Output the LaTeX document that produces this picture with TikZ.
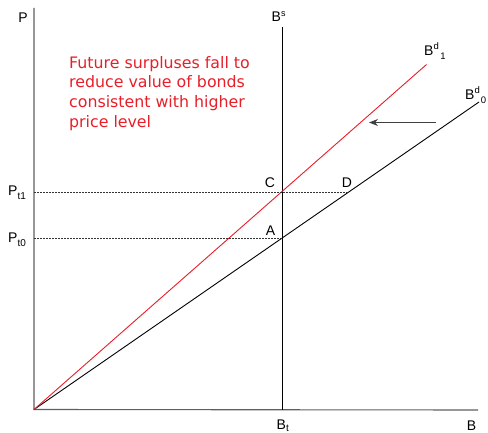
\documentclass[tikz,border=0pt]{standalone}
\usepackage{fontspec}
\setmainfont{Liberation Sans}
\newfontfamily\notefont{DejaVu Sans}
\usetikzlibrary{arrows.meta}
\definecolor{curvered}{RGB}{232,30,40}
\definecolor{axisgray}{RGB}{95,95,95}
\begin{document}
\begin{tikzpicture}[x=1pt,y=-1pt,
  axis/.style={draw=axisgray,line width=1.1pt},
  curve/.style={line width=0.9pt},
  guide/.style={draw=black!80,dashed,dash pattern=on 2pt off 1pt,line width=0.6pt},
  lbl/.style={inner sep=0pt,font=\fontsize{14}{16}\selectfont},
  pt/.style={inner sep=0pt,font=\fontsize{14}{16}\selectfont}]
\useasboundingbox (0,0) rectangle (488,433);
% coordinates
\coordinate (O) at (34,409.5);
\coordinate (Ytop) at (34,8);
\coordinate (Xend) at (478,410);
\coordinate (BsTop) at (282,27);
\coordinate (BsBot) at (282,409.5);
\coordinate (R1) at (426.5,64.5);
\coordinate (R0) at (479,102);
\coordinate (Ppt1) at (34,192.5);
\coordinate (Dpt) at (348,192.5);
\coordinate (Ppt0) at (34,238.5);
\coordinate (Apt) at (282,238.5);
\coordinate (ArrTail) at (436,122.5);
\coordinate (ArrTip) at (369,122.5);
% axes
\draw[axis] (Ytop) -- (O) -- (Xend);
% supply
\draw[curve,line width=0.8pt] (BsTop) -- (BsBot);
% demand curves
\draw[curve,draw=black] (O) -- (R0);
\draw[curve,draw=curvered] (O) -- (R1);
% guides
\draw[guide] (Ppt1) -- (Dpt);
\draw[guide] (Ppt0) -- (Apt);
% shift arrow
\draw[draw=black!75,line width=0.9pt,-{Stealth[length=9pt,width=7pt]}] (ArrTail) -- (ArrTip);
% labels
\node[lbl,anchor=base] (Plab) at (23,22.5) {P};
\node[lbl,anchor=base west] (Bslab) at (271.5,21.5) {B\raisebox{5pt}{\fontsize{9}{10}\selectfont s}};
\node[lbl,anchor=base west] (Bd1lab) at (424,56) {B\raisebox{6pt}{\fontsize{9.5}{10}\selectfont d}\hspace{1.5pt}\raisebox{-4pt}{\fontsize{9.5}{10}\selectfont 1}};
\node[lbl,anchor=base west] (Bd0lab) at (465,100) {B\raisebox{6pt}{\fontsize{9.5}{10}\selectfont d}\hspace{1pt}\raisebox{-4pt}{\fontsize{9.5}{10}\selectfont 0}};
\node[lbl,anchor=base west] (Pt1lab) at (8,196) {P\raisebox{-4pt}{\fontsize{10}{10}\selectfont t1}};
\node[lbl,anchor=base west] (Pt0lab) at (8,243) {P\raisebox{-4pt}{\fontsize{10}{10}\selectfont t0}};
\node[pt,anchor=base] (Clab) at (270,187.5) {C};
\node[pt,anchor=base] (Dlab) at (347,187.5) {D};
\node[pt,anchor=base] (Alab) at (270.5,235.5) {A};
\node[lbl,anchor=base west] (Btlab) at (276.5,429) {B\raisebox{-2.5pt}{\fontsize{10}{10}\selectfont t}};
\node[lbl,anchor=base] (Blab) at (471.5,430) {B};
% note
\node[inner sep=0pt,anchor=north west,align=left,text=curvered,
      font=\notefont\fontsize{15.8}{19.7}\selectfont] (note) at (69,56)
 {Future surpluses fall to\\reduce value of bonds\\consistent with higher\\price level};
\end{tikzpicture}
\end{document}
